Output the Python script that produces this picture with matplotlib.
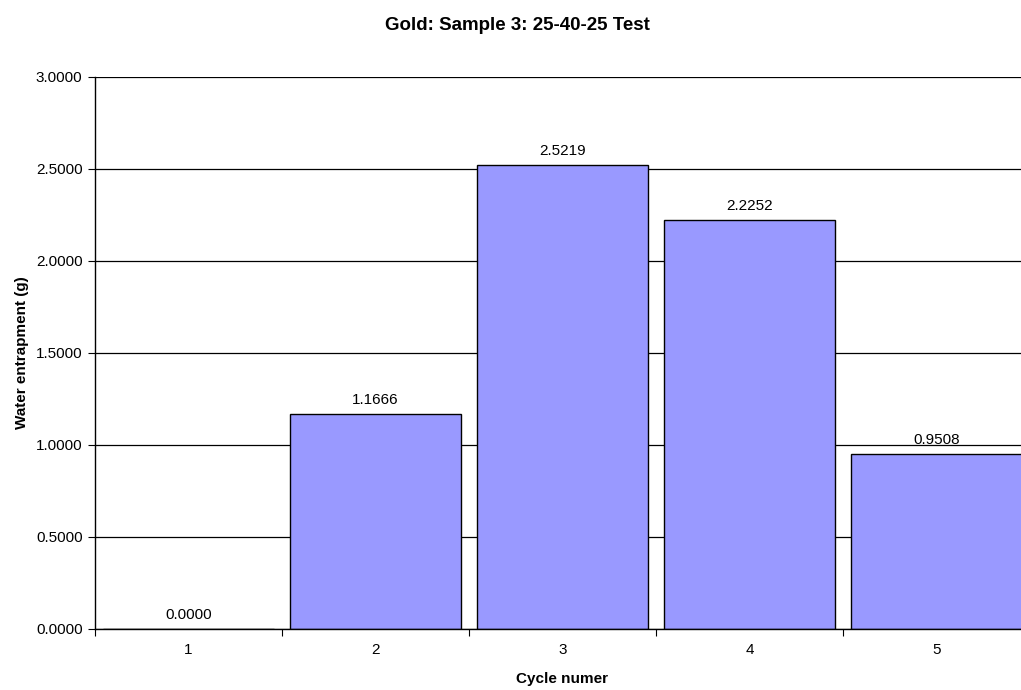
import matplotlib.pyplot as plt
import numpy as np

plt.rcParams['font.family'] = ['Liberation Sans', 'DejaVu Sans']

cycles = ['1', '2', '3', '4', '5']
entrapment = [0.0000, 1.1666, 2.5219, 2.2252, 0.9508]
yticks = [0.0, 0.5, 1.0, 1.5, 2.0, 2.5, 3.0]

fig = plt.figure(figsize=(10.21, 6.90), dpi=100)
# plot area runs a little past the right edge of the figure
ax = fig.add_axes([95 / 1021, 61 / 690, 935 / 1021, 552 / 690])

x = np.arange(1, len(cycles) + 1)
ax.bar(x, entrapment, width=0.91, color='#9999ff', edgecolor='black',
       linewidth=1.0, zorder=3)

for xi, v in zip(x, entrapment):
    ax.annotate('{:.4f}'.format(v), (xi, v), xytext=(0, 5),
                textcoords='offset points', ha='center', va='bottom',
                fontsize=11)

ax.set_xlim(0.5, 5.5)
ax.set_ylim(0, 3.0)
ax.set_yticks(yticks)
ax.set_yticklabels(['{:.4f}'.format(t) for t in yticks], fontsize=11)
ax.yaxis.grid(True, color='black', linewidth=0.9, zorder=0)
ax.set_axisbelow(True)

# category ticks sit between the bars, labels at the centres
ax.set_xticks(np.arange(0.5, 5.6, 1.0))
ax.set_xticklabels([])
ax.set_xticks(x, minor=True)
ax.set_xticklabels(cycles, minor=True, fontsize=11)
ax.tick_params(axis='x', which='minor', length=0, pad=10)
ax.tick_params(axis='x', which='major', length=5, direction='out')
ax.tick_params(axis='y', length=5, direction='out', pad=4)

for s in ['top', 'right']:
    ax.spines[s].set_visible(False)
ax.spines['left'].set_linewidth(1.0)
ax.spines['bottom'].set_linewidth(1.0)
ax.spines['bottom'].set_zorder(4)

ax.set_xlabel('Cycle numer', fontsize=11, fontweight='bold', labelpad=11)
ax.set_ylabel('Water entrapment (g)', fontsize=11, fontweight='bold', labelpad=5)
fig.text(517 / 1021, 1 - 25 / 690, 'Gold: Sample 3: 25-40-25 Test',
         ha='center', va='center', fontsize=13.5, fontweight='bold')

fig.savefig('out.png', dpi=100)
